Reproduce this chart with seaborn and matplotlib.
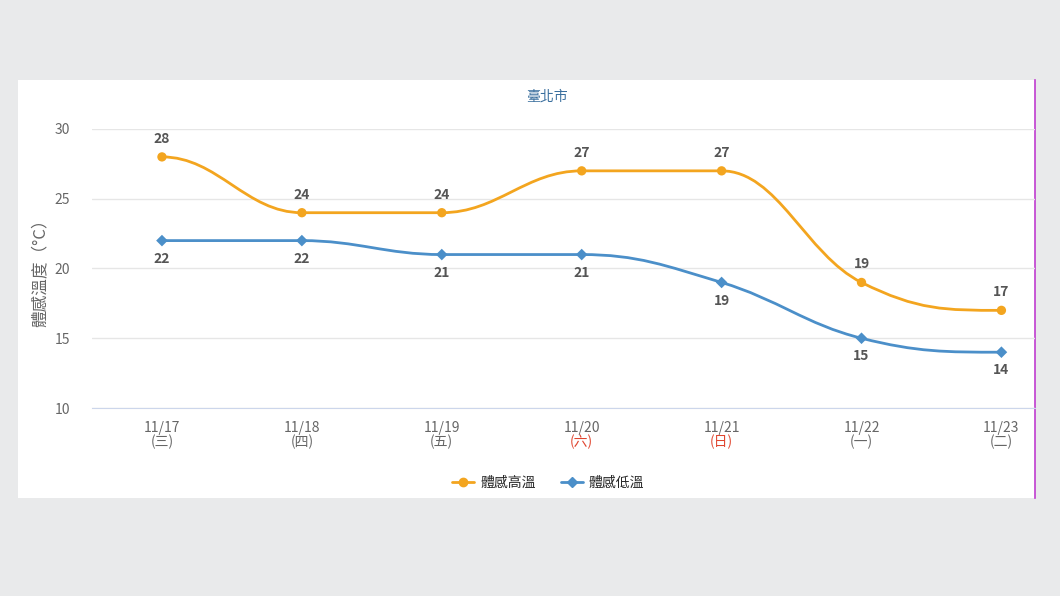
import numpy as np
import pandas as pd
import matplotlib.pyplot as plt
import seaborn as sns
from matplotlib.path import Path
from matplotlib.patches import PathPatch

dates = ["11/17", "11/18", "11/19", "11/20", "11/21", "11/22", "11/23"]
weekdays = ["(三)", "(四)", "(五)", "(六)", "(日)", "(一)", "(二)"]
high = [28, 24, 24, 27, 27, 19, 17]
low = [22, 22, 21, 21, 19, 15, 14]

ORANGE = "#f3a51f"
BLUE = "#4b8fc9"

sns.set_style("white")
plt.rcParams['font.family'] = ['Noto Sans CJK TC', 'DejaVu Sans']

fig = plt.figure(figsize=(10.6, 5.96), dpi=100)
fig.patch.set_facecolor("#e9eaeb")

# white chart panel behind everything
bg = fig.add_axes([18/1060, 1-498/596, 1017/1060, 418/596], zorder=-5)
bg.set_facecolor("white")
bg.set_xticks([])
bg.set_yticks([])
for s in bg.spines.values():
    s.set_visible(False)
bg.spines["right"].set_visible(True)
bg.spines["right"].set_color("#c03cd0")
bg.spines["right"].set_linewidth(1.2)

ax = fig.add_axes([92/1060, 1-408/596, 943/1060, 279/596], zorder=1)
ax.set_facecolor("none")


def spline(ax, ys, color):
    xs = np.arange(len(ys))
    verts = [(xs[0], ys[0])]
    codes = [Path.MOVETO]
    n = len(ys)
    slopes = []
    for i in range(n):
        if i == 0 or i == n - 1:
            slopes.append(0.0)
        elif (ys[i] - ys[i-1]) * (ys[i+1] - ys[i]) <= 0:
            slopes.append(0.0)
        else:
            slopes.append((ys[i+1] - ys[i-1]) / 2)
    for i in range(n - 1):
        d = 1 / 2.5
        verts += [(xs[i] + d, ys[i] + slopes[i] * d),
                  (xs[i+1] - d, ys[i+1] - slopes[i+1] * d),
                  (xs[i+1], ys[i+1])]
        codes += [Path.CURVE4] * 3
    ax.add_patch(PathPatch(Path(verts, codes), facecolor="none",
                           edgecolor=color, lw=2, zorder=2))


df = pd.DataFrame({"x": range(len(dates)), "high": high, "low": low})
spline(ax, high, ORANGE)
spline(ax, low, BLUE)
sns.scatterplot(data=df, x="x", y="high", color=ORANGE, s=45, marker="o",
                edgecolor="none", ax=ax, zorder=3)
sns.scatterplot(data=df, x="x", y="low", color=BLUE, s=35, marker="D",
                edgecolor="none", ax=ax, zorder=3)

for i, (h, l) in enumerate(zip(high, low)):
    ax.annotate(str(h), (i, h), xytext=(0, 8), textcoords="offset points",
                ha="center", va="bottom", fontsize=10, fontweight="bold", color="#555555")
    ax.annotate(str(l), (i, l), xytext=(0, -8), textcoords="offset points",
                ha="center", va="top", fontsize=10, fontweight="bold", color="#555555")

ax.set_xlim(-0.5, 6.24)
ax.set_ylim(10, 30)
ax.set_yticks([10, 15, 20, 25, 30])
ax.grid(axis="y", color="#e6e6e6", lw=1)
ax.tick_params(axis="y", labelsize=10, labelcolor="#666666", length=0, pad=16)
for s in ["top", "right", "left"]:
    ax.spines[s].set_visible(False)
ax.spines["bottom"].set_color("#ccd6eb")
ax.set_xticks(np.arange(-0.5, 6.5, 1))
ax.set_xticklabels([])
ax.tick_params(axis="x", length=8, color="#ccd6eb", direction="out")
for i, (d, w) in enumerate(zip(dates, weekdays)):
    c = "#e0452f" if w in ("(六)", "(日)") else "#666666"
    ax.text(i, -0.07, d, transform=ax.get_xaxis_transform(), ha="center",
            va="center", fontsize=10, color="#666666")
    ax.text(i, -0.12, w, transform=ax.get_xaxis_transform(), ha="center",
            va="center", fontsize=10, color=c)
ax.set_xlabel("")
ax.set_ylabel("體感溫度（°C）", fontsize=12, color="#666666", labelpad=4)

fig.text(547/1060, 1-97/596, "臺北市", ha="center", va="center",
         fontsize=10, color="#3a6f9e")

h1, = ax.plot([], [], color=ORANGE, marker="o", lw=2, ms=6)
h2, = ax.plot([], [], color=BLUE, marker="D", lw=2, ms=5)
fig.legend([h1, h2], ["體感高溫", "體感低溫"], loc="center",
           bbox_to_anchor=(548/1060, 1-483/596), ncol=2, frameon=False,
           fontsize=10, handlelength=1.6, columnspacing=1.8, handletextpad=0.4)

fig.savefig("out.png", dpi=100, facecolor=fig.get_facecolor())
